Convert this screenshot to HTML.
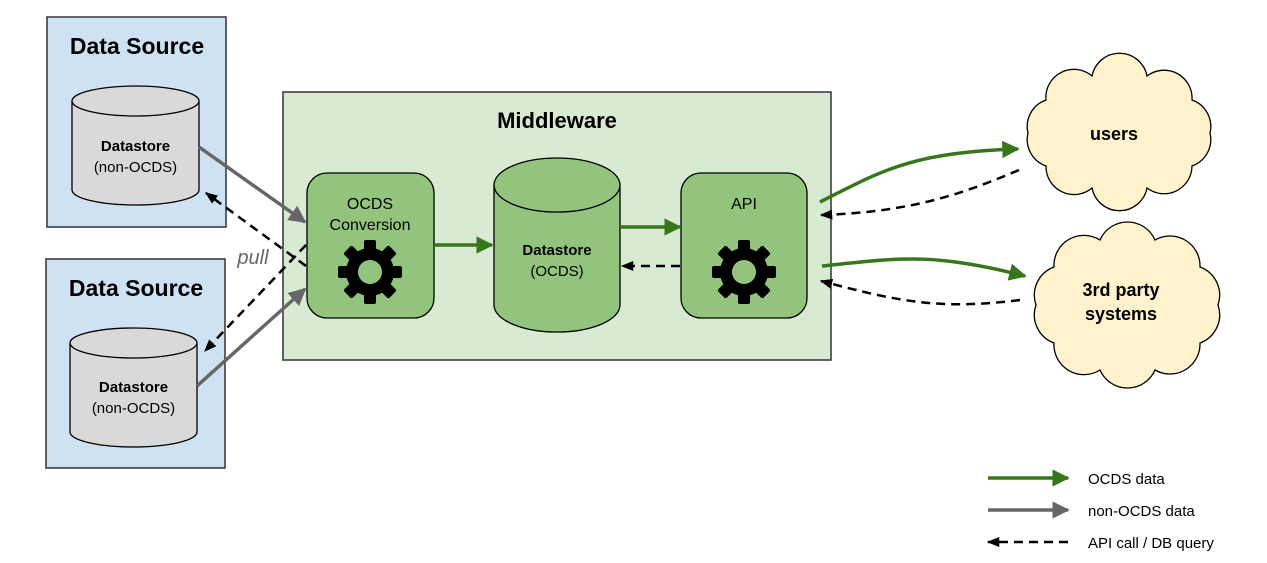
<!DOCTYPE html>
<html><head><meta charset="utf-8"><style>
html,body{margin:0;padding:0;background:#fff;}
svg{display:block;font-family:"Liberation Sans",sans-serif;}
</style></head><body>
<svg width="1267" height="563" viewBox="0 0 1267 563" xmlns="http://www.w3.org/2000/svg">
<defs>
<marker id="ag" viewBox="0 0 10 10" refX="9" refY="5" markerWidth="5" markerHeight="5" orient="auto" markerUnits="strokeWidth"><path d="M0,0 L10,5 L0,10 Z" fill="#38761d"/></marker>
<marker id="ay" viewBox="0 0 10 10" refX="9" refY="5" markerWidth="5" markerHeight="5" orient="auto" markerUnits="strokeWidth"><path d="M0,0 L10,5 L0,10 Z" fill="#666"/></marker>
<marker id="ab" viewBox="0 0 10 10" refX="9" refY="5" markerWidth="5" markerHeight="5" orient="auto" markerUnits="strokeWidth"><path d="M0,1 L10,5 L0,9 Z" fill="#000"/></marker>
<g id="gear">
<g fill="#000">
<rect x="-6" y="-32" width="12" height="64" rx="2"/>
<rect x="-6" y="-32" width="12" height="64" rx="2" transform="rotate(45)"/>
<rect x="-6" y="-32" width="12" height="64" rx="2" transform="rotate(90)"/>
<rect x="-6" y="-32" width="12" height="64" rx="2" transform="rotate(135)"/>
<circle r="24"/>
</g>
<circle r="12" fill="#93c47d"/>
</g>
</defs>

<rect x="47" y="17" width="179" height="210" fill="#cfe2f3" stroke="#333" stroke-width="1.5"/>
<text x="137" y="54" font-size="23" font-weight="bold" text-anchor="middle">Data Source</text>
<path d="M72,101 V190 A63.5,15 0 0 0 199,190 V101" fill="#d9d9d9" stroke="#000" stroke-width="1.3"/>
<ellipse cx="135.5" cy="101" rx="63.5" ry="15" fill="#d9d9d9" stroke="#000" stroke-width="1.3"/>
<text x="135.5" y="151" font-size="15" font-weight="bold" text-anchor="middle">Datastore</text>
<text x="135.5" y="172" font-size="15" text-anchor="middle">(non-OCDS)</text>

<rect x="46" y="259" width="179" height="209" fill="#cfe2f3" stroke="#333" stroke-width="1.5"/>
<text x="136" y="296" font-size="23" font-weight="bold" text-anchor="middle">Data Source</text>
<path d="M70,343 V432 A63.5,15 0 0 0 197,432 V343" fill="#d9d9d9" stroke="#000" stroke-width="1.3"/>
<ellipse cx="133.5" cy="343" rx="63.5" ry="15" fill="#d9d9d9" stroke="#000" stroke-width="1.3"/>
<text x="133.5" y="392" font-size="15" font-weight="bold" text-anchor="middle">Datastore</text>
<text x="133.5" y="413" font-size="15" text-anchor="middle">(non-OCDS)</text>

<rect x="283" y="92" width="548" height="268" fill="#d9ead3" stroke="#333" stroke-width="1.5"/>
<text x="557" y="128" font-size="22" font-weight="bold" text-anchor="middle">Middleware</text>

<rect x="307" y="173" width="127" height="145" rx="20" fill="#93c47d" stroke="#000" stroke-width="1.3"/>
<text x="370" y="209" font-size="16" text-anchor="middle">OCDS</text>
<text x="370" y="230" font-size="16" text-anchor="middle">Conversion</text>
<use href="#gear" x="370" y="272"/>

<path d="M494,185 V305 A63,27 0 0 0 620,305 V185" fill="#93c47d" stroke="#000" stroke-width="1.3"/>
<ellipse cx="557" cy="185" rx="63" ry="27" fill="#93c47d" stroke="#000" stroke-width="1.3"/>
<text x="557" y="255" font-size="15" font-weight="bold" text-anchor="middle">Datastore</text>
<text x="557" y="276" font-size="15" text-anchor="middle">(OCDS)</text>

<rect x="681" y="173" width="126" height="145" rx="20" fill="#93c47d" stroke="#000" stroke-width="1.3"/>
<text x="744" y="209" font-size="16" text-anchor="middle">API</text>
<use href="#gear" x="744" y="272"/>

<path d="M1210,133 A28,28 0 0 1 1192,166 A28,28 0 0 1 1147,188 A28,28 0 0 1 1092,188 A28,28 0 0 1 1046,166 A28,28 0 0 1 1028,133 A28,28 0 0 1 1046,100 A28,28 0 0 1 1092,76 A28,28 0 0 1 1147,76 A28,28 0 0 1 1192,100 A28,28 0 0 1 1210,133 Z" fill="#fff2cc" stroke="#000" stroke-width="1.3"/>
<text x="1114" y="140" font-size="18" font-weight="bold" text-anchor="middle">users</text>
<path d="M1218,305 A30,30 0 0 1 1200,343 A30,30 0 0 1 1155,370 A30,30 0 0 1 1100,370 A30,30 0 0 1 1054,343 A30,30 0 0 1 1036,305 A30,30 0 0 1 1054,267 A30,30 0 0 1 1100,240 A30,30 0 0 1 1155,240 A30,30 0 0 1 1200,267 A30,30 0 0 1 1218,305 Z" fill="#fff2cc" stroke="#000" stroke-width="1.3"/>
<text x="1121" y="296" font-size="18" font-weight="bold" text-anchor="middle">3rd party</text>
<text x="1121" y="320" font-size="18" font-weight="bold" text-anchor="middle">systems</text>

<line x1="199" y1="147" x2="305" y2="222" stroke="#666" stroke-width="3.5" marker-end="url(#ay)"/>
<line x1="197" y1="386" x2="305" y2="289" stroke="#666" stroke-width="3.5" marker-end="url(#ay)"/>
<line x1="306" y1="266" x2="206" y2="193" stroke="#000" stroke-width="2.5" stroke-dasharray="9,6" marker-end="url(#ab)"/>
<line x1="306" y1="245" x2="205" y2="351" stroke="#000" stroke-width="2.5" stroke-dasharray="9,6" marker-end="url(#ab)"/>
<text x="253" y="264" font-size="20" font-style="italic" fill="#666" text-anchor="middle">pull</text>

<line x1="434" y1="245" x2="492" y2="245" stroke="#38761d" stroke-width="3.5" marker-end="url(#ag)"/>
<line x1="620" y1="227" x2="680" y2="227" stroke="#38761d" stroke-width="3.5" marker-end="url(#ag)"/>
<line x1="680" y1="266" x2="622" y2="266" stroke="#000" stroke-width="2.5" stroke-dasharray="9,6" marker-end="url(#ab)"/>

<path d="M820,202 C880,172 910,152 1018,149" fill="none" stroke="#38761d" stroke-width="3.5" marker-end="url(#ag)"/>
<path d="M1019,170 C960,195 910,212 821,215" fill="none" stroke="#000" stroke-width="2.5" stroke-dasharray="9,6" marker-end="url(#ab)"/>
<path d="M822,266 C900,258 930,252 1025,276" fill="none" stroke="#38761d" stroke-width="3.5" marker-end="url(#ag)"/>
<path d="M1020,300 C940,310 900,302 821,281" fill="none" stroke="#000" stroke-width="2.5" stroke-dasharray="9,6" marker-end="url(#ab)"/>

<line x1="988" y1="478" x2="1068" y2="478" stroke="#38761d" stroke-width="3.5" marker-end="url(#ag)"/>
<text x="1088" y="484" font-size="15">OCDS data</text>
<line x1="988" y1="510" x2="1068" y2="510" stroke="#666" stroke-width="3.5" marker-end="url(#ay)"/>
<text x="1088" y="516" font-size="15">non-OCDS data</text>
<line x1="1068" y1="542" x2="988" y2="542" stroke="#000" stroke-width="2.5" stroke-dasharray="9,6" marker-end="url(#ab)"/>
<text x="1088" y="548" font-size="15">API call / DB query</text>
</svg>
</body></html>
